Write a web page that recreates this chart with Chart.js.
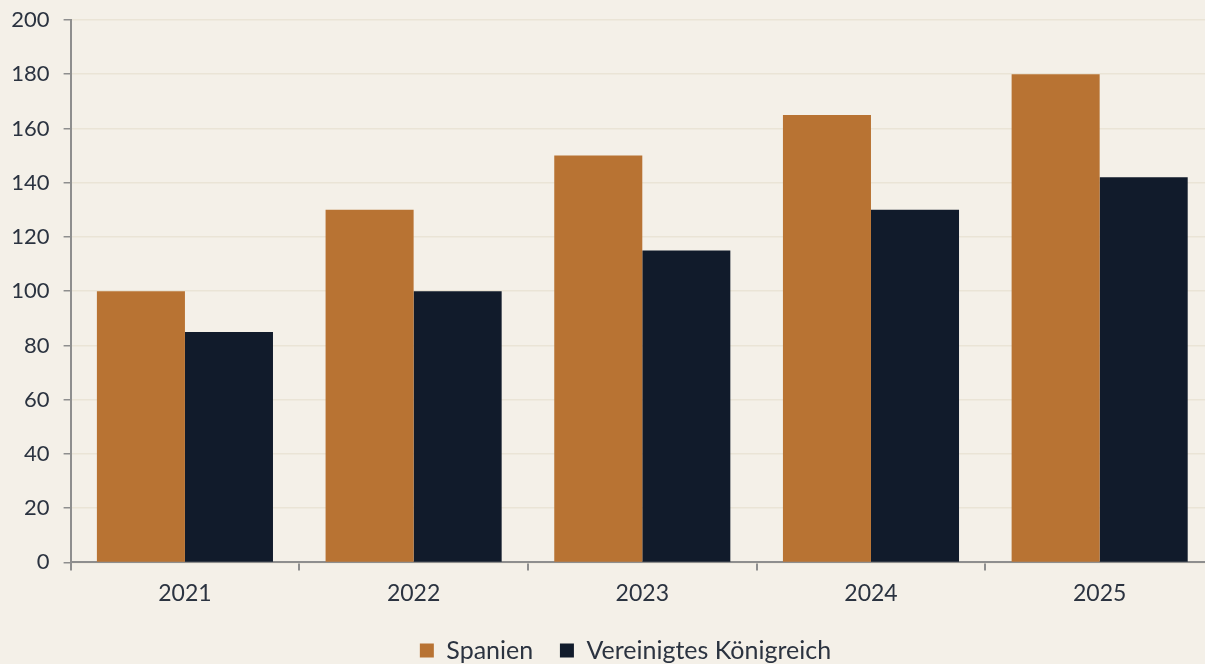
<!DOCTYPE html>
<html>
<head>
<meta charset="utf-8">
<script src="https://cdn.jsdelivr.net/npm/chart.js@4"></script>
<style>
  html, body { margin:0; padding:0; background:#F4F0E8; overflow:hidden; }
  #clip { width:1205px; height:664px; overflow:hidden; position:relative; }
  #wrap { width:1214px; height:664px; position:relative; }
</style>
</head>
<body>
<div id="clip"><div id="wrap"><canvas id="chart"></canvas></div></div>
<script>
// ── DATA ──────────────────────────────────────────────
var years = ['2021','2022','2023','2024','2025'];
var spanien = [100, 130, 150, 165, 180];
var vereinigtesKoenigreich = [85, 100, 115, 130, 142];

var textColor = '#2B3340';
var axisColor = '#8E8E8E';
var fontFamily = 'Lato, "Open Sans", sans-serif';

// paint page-coloured background behind the chart
var bgPlugin = {
  id:'bg',
  beforeDraw:function(chart){
    var ctx = chart.ctx;
    ctx.save();
    ctx.fillStyle = '#F4F0E8';
    ctx.fillRect(0, 0, chart.width, chart.height);
    ctx.restore();
  }
};

// legend in the original sits a little right of the canvas centre
var legendShift = {
  id:'legendShift',
  afterLayout:function(chart){
    if(chart.legend){ chart.legend.left += 37; }
  }
};

new Chart(document.getElementById('chart'), {
  type:'bar',
  data:{
    labels:years,
    datasets:[
      { label:'Spanien', data:spanien, backgroundColor:'#B87333', categoryPercentage:0.77, barPercentage:1 },
      { label:'Vereinigtes Königreich', data:vereinigtesKoenigreich, backgroundColor:'#111B2B', categoryPercentage:0.77, barPercentage:1 }
    ]
  },
  options:{
    responsive:true, maintainAspectRatio:false, animation:false,
    layout:{ padding:{ top:0, right:0, left:0, bottom:-9 } },
    plugins:{
      legend:{
        position:'bottom',
        labels:{
          color:textColor, font:{ family:fontFamily, size:25 }, boxWidth:14, boxHeight:14, padding:8,
          generateLabels:function(chart){
            var items = Chart.defaults.plugins.legend.labels.generateLabels(chart);
            items.forEach(function(it, i){ if(i < items.length - 1) it.text = it.text + '\u2003'; });
            return items;
          }
        }
      },
      tooltip:{ enabled:false }
    },
    scales:{
      x:{
        offset:true,
        afterFit:function(scale){ scale.height += 14; },
        grid:{ offset:true, drawOnChartArea:false, color:axisColor, tickLength:8, lineWidth:2 },
        border:{ color:axisColor, width:2 },
        ticks:{ color:textColor, font:{ family:fontFamily, size:23 }, padding:9 }
      },
      y:{
        min:0, max:200,
        afterFit:function(scale){ scale.width = 70.6; scale.paddingTop = 20; scale.paddingBottom = 0; },
        ticks:{ stepSize:20, color:textColor, font:{ family:fontFamily, size:22 }, padding:14 },
        grid:{ color:'#EAE4D6', tickColor:axisColor, tickLength:7, lineWidth:1.5 },
        border:{ color:axisColor, width:2 }
      }
    }
  },
  plugins:[bgPlugin, legendShift]
});
</script>
</body>
</html>
